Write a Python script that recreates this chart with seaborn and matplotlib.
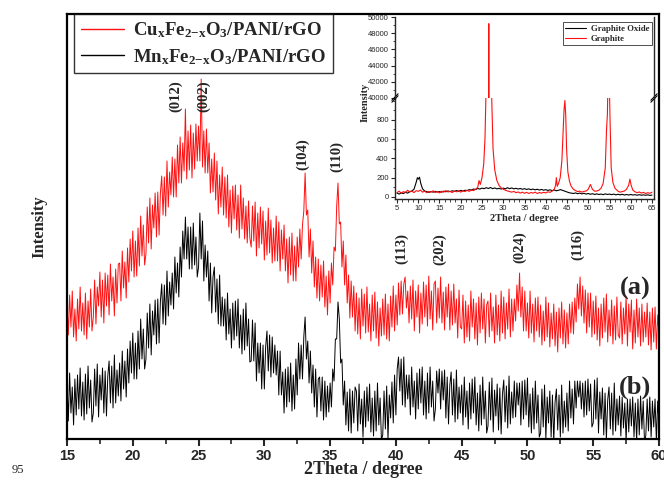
import numpy as np
import pandas as pd
import matplotlib
matplotlib.use("Agg")
import matplotlib.pyplot as plt
import seaborn as sns
from matplotlib.ticker import MultipleLocator, FixedLocator

# ---------------- data ----------------
two_theta = [round(15 + 0.1 * i, 1) for i in range(451)]

cufe_a = [
    136, 104, 144, 112, 148, 102, 130, 98, 140, 110, 152, 108, 136, 104, 146, 100, 138, 112, 150, 108,
    122, 159, 115, 152, 133, 167, 122, 159, 116, 166, 133, 164, 124, 175, 138, 162, 123, 170, 136, 175,
    176, 138, 188, 151, 177, 141, 191, 157, 200, 168, 208, 162, 198, 163, 211, 173, 223, 183, 214, 174,
    185, 232, 196, 241, 190, 234, 211, 246, 202, 247, 204, 246, 263, 224, 262, 223, 278, 232, 267, 244,
    282, 242, 280, 242, 294, 256, 302, 256, 296, 268, 330, 260, 308, 269, 314, 261, 306, 270, 315, 278,
    313, 278, 360, 272, 308, 266, 310, 266, 296, 246, 280, 247, 286, 239, 278, 225, 264, 232, 272, 224,
    262, 221, 264, 212, 249, 206, 253, 220, 254, 209, 244, 201, 254, 210, 241, 200, 233, 196, 238, 201,
    192, 233, 198, 237, 183, 226, 191, 232, 195, 228, 179, 218, 184, 231, 186, 219, 176, 211, 178, 223,
    178, 217, 168, 209, 180, 214, 168, 200, 156, 202, 164, 206, 158, 193, 158, 202, 172, 210, 180, 214,
    228, 266, 224, 229, 182, 210, 166, 198, 152, 182, 141, 180, 138, 174, 142, 178, 132, 163, 124, 168,
    136, 176, 154, 192, 188, 233, 256, 215, 217, 172, 198, 154, 184, 136, 164, 121, 158, 122, 153, 108,
    146, 105, 141, 100, 150, 113, 145, 106, 152, 107, 135, 98, 144, 108, 147, 101, 137, 93, 131, 103,
    140, 104, 145, 100, 135, 98, 143, 112, 153, 108, 144, 114, 156, 124, 158, 125, 155, 162, 131, 148,
    116, 153, 120, 159, 108, 148, 122, 154, 106, 146, 115, 157, 122, 154, 113, 163, 120, 148, 109, 155,
    158, 116, 151, 121, 162, 116, 147, 109, 152, 122, 155, 109, 148, 114, 155, 116, 140, 101, 149, 112,
    110, 144, 96, 138, 102, 134, 98, 148, 112, 140, 100, 136, 94, 142, 106, 146, 110, 140, 96, 134,
    138, 102, 146, 108, 132, 96, 144, 104, 134, 98, 148, 106, 142, 100, 136, 110, 150, 102, 140, 108,
    140, 118, 154, 128, 166, 122, 152, 108, 148, 108, 136, 101, 148, 106, 135, 97, 141, 108, 142, 102,
    134, 94, 128, 98, 142, 102, 136, 92, 126, 100, 135, 93, 127, 87, 131, 101, 137, 95, 129, 91,
    126, 95, 135, 106, 137, 105, 141, 117, 155, 130, 162, 123, 153, 116, 149, 106, 146, 112, 146, 102,
    138, 105, 143, 99, 131, 93, 135, 101, 141, 107, 145, 97, 129, 103, 139, 95, 133, 99, 142, 104,
    101, 137, 95, 131, 105, 143, 93, 135, 107, 139, 90, 129, 96, 140, 102, 131, 93, 135, 97, 127,
    102, 136, 94, 127, 89, 131, 97, 132, 90, 124, 104,
]

mnfe_b = [
    58, 18, 66, 26, 52, 14, 60, 24, 64, 30, 71, 23, 57, 19, 65, 25, 73, 31, 59, 17,
    26, 70, 33, 75, 22, 64, 39, 71, 26, 68, 23, 63, 78, 36, 73, 31, 84, 36, 69, 43,
    76, 38, 88, 50, 78, 42, 90, 56, 98, 66, 106, 60, 96, 60, 108, 70, 120, 80, 110, 70,
    80, 126, 91, 135, 84, 128, 104, 139, 95, 140, 96, 138, 155, 115, 154, 114, 168, 123, 157, 134,
    166, 130, 182, 146, 176, 142, 192, 162, 208, 180, 222, 180, 212, 170, 212, 170, 216, 174, 202, 162,
    172, 226, 180, 218, 158, 194, 162, 188, 138, 176, 126, 162, 172, 127, 160, 115, 164, 113, 142, 113,
    140, 99, 146, 105, 130, 91, 136, 99, 138, 103, 140, 91, 124, 85, 130, 89, 136, 93, 120, 77,
    78, 119, 78, 116, 58, 96, 66, 96, 50, 94, 50, 92, 108, 68, 104, 62, 102, 66, 94, 64,
    88, 44, 88, 44, 67, 26, 70, 32, 72, 37, 76, 28, 64, 30, 80, 44, 96, 60, 94, 60,
    102, 122, 80, 98, 56, 88, 46, 74, 32, 70, 22, 60, 62, 28, 62, 19, 58, 22, 53, 27,
    56, 32, 70, 58, 100, 100, 137, 120, 76, 80, 34, 58, 14, 47, 8, 50, 6, 48, 16, 52,
    48, 8, 55, 15, 40, 2, 48, 12, 52, 18, 55, 7, 41, 3, 48, 8, 56, 14, 41, -1,
    4, 48, 10, 53, 0, 44, 21, 57, 16, 64, 24, 70, 82, 48, 80, 34, 82, 32, 64, 40,
    64, 24, 72, 32, 58, 20, 66, 30, 70, 36, 72, 24, 58, 20, 66, 26, 72, 32, 58, 18,
    30, 68, 46, 70, 30, 68, 39, 69, 21, 62, 15, 54, 67, 24, 60, 17, 69, 20, 52, 26,
    54, 14, 62, 22, 48, 10, 56, 20, 60, 26, 62, 14, 46, 8, 54, 14, 62, 20, 48, 6,
    13, 57, 19, 61, 7, 49, 23, 55, 9, 51, 5, 45, 59, 17, 53, 11, 63, 15, 47, 21,
    58, 22, 56, 34, 56, 14, 58, 20, 59, 24, 61, 12, 45, 6, 51, 10, 58, 16, 44, 2,
    6, 50, 12, 54, 0, 42, 16, 48, 2, 44, -3, 37, 50, 9, 44, 2, 54, 6, 38, 12,
    46, 8, 58, 21, 50, 15, 58, 31, 58, 42, 58, 30, 56, 22, 58, 24, 60, 28, 55, 12,
    16, 59, 20, 61, 6, 47, 20, 51, 4, 46, -1, 39, 52, 10, 46, 4, 56, 8, 40, 14,
    43, 3, 42, 11, 36, -2, 40, 7, 40, 13, 42, 2, 36, -2, 40, 4, 43, 10, 38, -4,
    4, 40, 8, 42, 2, 38, 12, 40, -2, 38, 16,
]

series_names = [r"Cu$_\mathrm{x}$Fe$_\mathrm{2{-}x}$O$_\mathrm{3}$/PANI/rGO",
                r"Mn$_\mathrm{x}$Fe$_\mathrm{2{-}x}$O$_\mathrm{3}$/PANI/rGO"]

peak_labels = ["(012)", "(002)", "(104)", "(110)", "(113)", "(202)", "(024)", "(116)"]
peak_label_x = [23.28, 25.41, 32.93, 35.52, 40.46, 43.35, 49.42, 53.83]
peak_label_y = [343, 343, 285, 283, 191, 190, 192, 195]

# inset: graphite / graphite oxide
graphite_x = [5, 5.5, 6, 6.5, 7, 7.5, 8, 8.5, 9, 9.5, 10, 10.5, 11, 11.5, 12, 12.5, 13, 13.5,
              14, 14.5, 15, 15.5, 16, 16.5, 17, 17.5, 18, 18.5, 19, 19.5, 20, 20.5, 21, 21.5,
              22, 22.5, 23, 23.5, 24, 24.3, 24.6, 25, 25.4, 25.7, 25.9, 26.1, 26.3, 26.5, 26.6,
              26.7, 26.9, 27.1, 27.3, 27.6, 28, 28.5, 29, 29.5, 30, 30.5, 31, 31.5, 32, 32.5,
              33, 33.5, 34, 34.5, 35, 35.5, 36, 36.5, 37, 37.5, 38, 38.5, 39, 39.5, 40, 40.5,
              41, 41.5, 42, 42.3, 42.5, 42.7, 43, 43.4, 43.8, 44.1, 44.3, 44.5, 44.7, 44.9,
              45.2, 45.6, 46, 46.5, 47, 47.5, 48, 48.5, 49, 49.5, 50, 50.5, 51, 51.5, 52, 52.5,
              53, 53.5, 54, 54.3, 54.5, 54.6, 54.8, 55.0, 55.1, 55.4, 55.8, 56.3, 57, 57.5, 58,
              58.5, 59, 59.5, 59.8, 60.1, 60.5, 61, 61.5, 62, 62.5, 63, 63.5, 64, 64.5, 65]
graphite_y = [45, 60, 40, 55, 48, 70, 52, 62, 45, 66, 58, 72, 50, 60, 44, 58, 50, 64,
              46, 56, 42, 60, 50, 66, 52, 58, 46, 62, 54, 66, 50, 64, 56, 70,
              58, 72, 66, 80, 100, 170, 130, 200, 340, 600, 1000, 2000, 5000, 30000, 49200,
              30000, 5000, 2000, 1000, 500, 280, 170, 120, 95, 80, 70, 62, 56, 50, 58,
              44, 52, 40, 50, 38, 48, 36, 46, 40, 50, 36, 46, 40, 48, 42, 54,
              48, 60, 80, 120, 200, 110, 140, 200, 380, 700, 900, 1000, 850, 500,
              260, 160, 110, 80, 66, 56, 60, 50, 58, 62, 80, 130, 78, 60, 62, 70,
              90, 140, 300, 700, 850, 1100, 3000, 1100, 850, 300, 150, 90, 60, 50, 56,
              62, 80, 120, 185, 120, 70, 54, 44, 52, 40, 48, 36, 44, 38, 50]

oxide_x = [5, 5.5, 6, 6.5, 7, 7.5, 8, 8.5, 9, 9.5, 9.8, 10, 10.3, 10.6, 11, 11.5, 12, 12.5,
           13, 13.5, 14, 14.5, 15, 15.5, 16, 16.5, 17, 17.5, 18, 18.5, 19, 19.5, 20, 20.5,
           21, 21.5, 22, 22.5, 23, 23.5, 24, 24.5, 25, 25.5, 26, 26.5, 27, 27.5, 28, 28.5,
           29, 29.5, 30, 30.5, 31, 31.5, 32, 32.5, 33, 33.5, 34, 34.5, 35, 35.5, 36, 36.5,
           37, 37.5, 38, 38.5, 39, 39.5, 40, 40.5, 41, 41.5, 42, 42.5, 43, 43.5, 44, 44.5,
           45, 45.5, 46, 46.5, 47, 47.5, 48, 48.5, 49, 49.5, 50, 50.5, 51, 51.5, 52, 52.5,
           53, 53.5, 54, 54.5, 55, 55.5, 56, 56.5, 57, 57.5, 58, 58.5, 59, 59.5, 60, 60.5,
           61, 61.5, 62, 62.5, 63, 63.5, 64, 64.5, 65]
oxide_y = [40, 30, 42, 36, 48, 40, 55, 62, 80, 150, 200, 185, 205, 140, 85, 62, 55, 48,
           56, 50, 58, 52, 56, 50, 60, 54, 62, 56, 64, 58, 66, 60, 68, 62,
           70, 66, 76, 72, 82, 78, 88, 82, 92, 86, 96, 88, 98, 86, 94, 84,
           90, 82, 92, 84, 96, 86, 94, 84, 90, 82, 88, 80, 86, 78, 84, 76,
           82, 74, 80, 72, 78, 70, 76, 68, 74, 66, 72, 64, 70, 76, 68, 60,
           52, 44, 40, 36, 42, 34, 40, 32, 38, 30, 36, 28, 34, 26, 32, 26,
           30, 24, 32, 26, 30, 24, 30, 22, 28, 22, 28, 20, 26, 20, 26, 20,
           24, 18, 24, 18, 22, 18, 22, 16, 20]
inset_names = ["Graphite Oxide", "Graphite"]

main_df = pd.DataFrame({"two_theta": two_theta, "a": cufe_a, "b": mnfe_b})

# ---------------- styling ----------------
sns.set_style("ticks")
plt.rcParams["font.family"] = ["Liberation Serif", "DejaVu Serif"]
plt.rcParams["mathtext.fontset"] = "custom"
plt.rcParams["mathtext.rm"] = "Liberation Serif:bold"
plt.rcParams["mathtext.it"] = "Liberation Serif:bold"
plt.rcParams["mathtext.bf"] = "Liberation Serif:bold"

W, H = 664, 480
fig = plt.figure(figsize=(W / 100, H / 100), dpi=100)
fig.patch.set_facecolor("white")

def box(l, t, r, b):
    return [l / W, 1 - b / H, (r - l) / W, (b - t) / H]

ax = fig.add_axes(box(67, 14, 659, 439))
sns.lineplot(data=main_df, x="two_theta", y="a", ax=ax, color="#ff1010", lw=0.7,
             label=series_names[0], sort=False)
sns.lineplot(data=main_df, x="two_theta", y="b", ax=ax, color="black", lw=0.7,
             label=series_names[1], sort=False)
ax.set_xlim(15, 60)
ax.set_ylim(0, 425)
ax.set_yticks([])
ax.xaxis.set_major_locator(MultipleLocator(5))
ax.xaxis.set_minor_locator(MultipleLocator(2.5))
ax.tick_params(axis="x", which="major", direction="out", length=5, width=1.5, pad=2)
ax.tick_params(axis="x", which="minor", direction="out", length=3.5, width=1.2)
for lab in ax.get_xticklabels():
    lab.set_fontfamily("Liberation Sans")
    lab.set_fontweight("bold")
    lab.set_fontsize(10.5)
for s in ax.spines.values():
    s.set_linewidth(1.6)
    s.set_color("black")
ax.set_xlabel("2Theta / degree", fontsize=13, fontweight="bold", labelpad=-1)
ax.set_ylabel("Intensity", fontsize=12, fontweight="bold", labelpad=14)

leg = ax.legend(loc="upper left", bbox_to_anchor=(0.012, 1.0), borderaxespad=0,
                prop={"family": "Liberation Serif", "weight": "bold", "size": 13.5},
                frameon=True, fancybox=False, handlelength=2.3, handletextpad=0.5,
                borderpad=0.35, labelspacing=0.35)
leg.get_frame().set_edgecolor("black")
leg.get_frame().set_linewidth(1.0)
for ln in leg.get_lines():
    ln.set_linewidth(1.0)

for txt, xx, yy in zip(peak_labels, peak_label_x, peak_label_y):
    ax.text(xx, yy, txt, rotation=90, ha="center", va="center", fontsize=10.5,
            fontweight="bold", family="Liberation Serif")
ax.text(58.2, 151, "(a)", ha="center", va="center", fontsize=19, fontweight="bold")
ax.text(58.2, 52, "(b)", ha="center", va="center", fontsize=19, fontweight="bold")

fig.text(18 / W, 1 - 470 / H, "95", fontsize=9, ha="center", va="center")

# ---------------- inset (broken y axis) ----------------
ax_lo = fig.add_axes(box(395, 98, 654, 199))
ax_hi = fig.add_axes(box(395, 17, 654, 98))
for a in (ax_lo, ax_hi):
    sns.lineplot(x=oxide_x, y=oxide_y, ax=a, color="black", lw=0.8,
                 label=inset_names[0], sort=False)
    sns.lineplot(x=graphite_x, y=graphite_y, ax=a, color="#ff1010", lw=0.8,
                 label=inset_names[1], sort=False)
    a.set_xlim(4.53, 65.47)
    a.set_facecolor("none")
    for s in a.spines.values():
        s.set_linewidth(1.0)
ax_lo.legend_.remove()
ax_lo.set_ylim(-21, 1026)
ax_hi.set_ylim(39960, 50030)
ax_lo.spines["top"].set_visible(False)
ax_hi.spines["bottom"].set_visible(False)
ax_hi.spines["top"].set_visible(False)
ax_hi.set_xticks([])
ax_hi.tick_params(axis="x", which="both", length=0)
ax_lo.xaxis.set_major_locator(MultipleLocator(5))
ax_lo.xaxis.set_minor_locator(MultipleLocator(1.25))
ax_lo.yaxis.set_major_locator(FixedLocator([0, 200, 400, 600, 800]))
ax_lo.yaxis.set_minor_locator(MultipleLocator(100))
ax_hi.yaxis.set_major_locator(MultipleLocator(2000))
ax_hi.yaxis.set_minor_locator(MultipleLocator(1000))
for a in (ax_lo, ax_hi):
    a.tick_params(which="major", direction="out", length=3, width=0.8, labelsize=5.5, pad=1.5)
    a.tick_params(which="minor", direction="out", length=1.8, width=0.6)
    for lab in a.get_xticklabels() + a.get_yticklabels():
        lab.set_fontfamily("Liberation Sans")
ax_lo.set_xlabel("2Theta / degree", fontsize=7.5, fontweight="bold", labelpad=1)
ax_lo.set_ylabel("")
ax_hi.set_ylabel("")
fig.text(365 / W, 1 - 102 / H, "Intensity", rotation=90, ha="center", va="center",
         fontsize=7.5, fontweight="bold")

# break marks
for xa in (0, 1):
    for dy in (-0.012, 0.012):
        ax_hi.plot([xa - 0.012, xa + 0.012], [dy - 0.04, dy + 0.04], transform=ax_hi.transAxes,
                   color="black", lw=0.8, clip_on=False)

ileg = ax_hi.legend(loc="upper right", bbox_to_anchor=(0.992, 0.938), borderaxespad=0,
                    prop={"family": "Liberation Serif", "weight": "bold", "size": 6.3},
                    frameon=True, fancybox=False, handlelength=2.4, handletextpad=0.5,
                    borderpad=0.3, labelspacing=0.2)
ileg.get_frame().set_edgecolor("black")
ileg.get_frame().set_linewidth(0.6)

fig.savefig("out.png", dpi=100, facecolor="white")
